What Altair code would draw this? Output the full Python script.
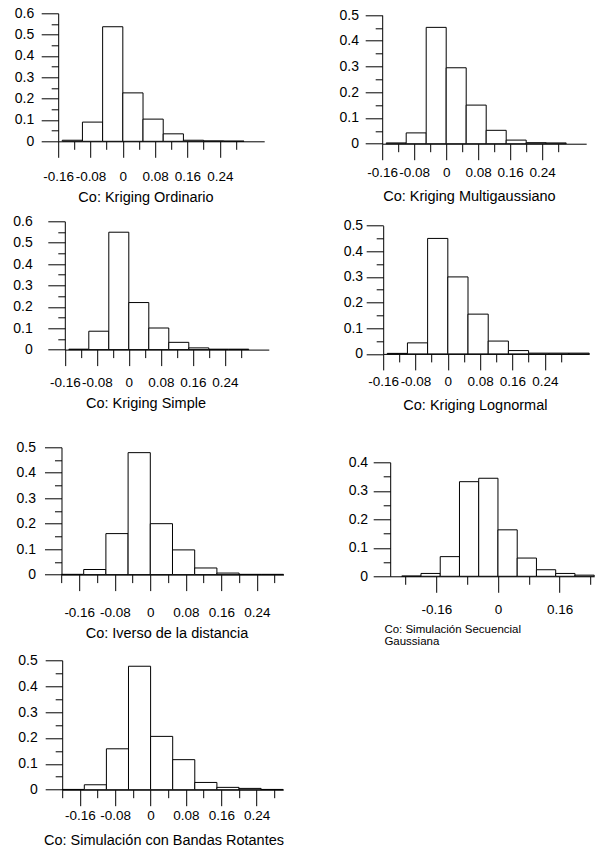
import json
import altair as alt
import pandas as pd

FONT = "Liberation Sans"

# ---------------- data ----------------
titles = [
    "Co: Kriging Ordinario",
    "Co: Kriging Multigaussiano",
    "Co: Kriging Simple",
    "Co: Kriging Lognormal",
    "Co: Iverso de la distancia",
    ["Co: Simulación Secuencial", "Gaussiana"],
    "Co: Simulación con Bandas Rotantes",
]

edges_a = [-0.15, -0.10, -0.05, 0.00, 0.05, 0.10, 0.15, 0.20, 0.25, 0.30]
edges_b = [-0.15, -0.10, -0.05, 0.00, 0.05, 0.10, 0.15, 0.20, 0.25, 0.30, 0.35]
edges_c = [-0.20, -0.15, -0.10, -0.05, 0.00, 0.05, 0.10, 0.15, 0.20, 0.25, 0.30]
edges_d = [-0.25, -0.20, -0.15, -0.10, -0.05, 0.00, 0.05, 0.10, 0.15, 0.20, 0.25]

freq_ordinario = [0.005, 0.090, 0.537, 0.227, 0.104, 0.035, 0.005, 0.002, 0.001]
freq_multigauss = [0.003, 0.042, 0.452, 0.295, 0.150, 0.052, 0.014, 0.004, 0.003]
freq_simple = [0.002, 0.086, 0.549, 0.220, 0.101, 0.034, 0.008, 0.002, 0.002]
freq_lognormal = [0.002, 0.043, 0.450, 0.300, 0.155, 0.050, 0.013, 0.003, 0.003, 0.003]
freq_inverso = [0.001, 0.020, 0.161, 0.479, 0.200, 0.097, 0.026, 0.006, 0.001, 0.001]
freq_ssg = [0.001, 0.010, 0.069, 0.332, 0.344, 0.163, 0.064, 0.023, 0.010, 0.004]
freq_bandas = [0.001, 0.019, 0.158, 0.477, 0.206, 0.116, 0.028, 0.009, 0.005, 0.001]

xticks_a = [-0.16, -0.12, -0.08, -0.04, 0.0, 0.04, 0.08, 0.12, 0.16, 0.20, 0.24, 0.28]
xticks_c = [-0.20, -0.16, -0.12, -0.08, -0.04, 0.0, 0.04, 0.08, 0.12, 0.16, 0.20, 0.24, 0.28]
xticks_d = [-0.24, -0.16, -0.08, 0.0, 0.08, 0.16, 0.24]
xlabels_a = [-0.16, -0.08, 0.0, 0.08, 0.16, 0.24]
xlabels_d = [-0.16, 0.0, 0.16]

yticks_6 = [0, 0.05, 0.1, 0.15, 0.2, 0.25, 0.3, 0.35, 0.4, 0.45, 0.5, 0.55, 0.6]
yticks_5 = [0, 0.05, 0.1, 0.15, 0.2, 0.25, 0.3, 0.35, 0.4, 0.45, 0.5]
yticks_4 = [0, 0.05, 0.1, 0.15, 0.2, 0.25, 0.3, 0.35, 0.4]
ylabels_6 = [0, 0.1, 0.2, 0.3, 0.4, 0.5, 0.6]
ylabels_5 = [0, 0.1, 0.2, 0.3, 0.4, 0.5]
ylabels_4 = [0, 0.1, 0.2, 0.3, 0.4]

panels = [
    dict(edges=edges_a, freq=freq_ordinario, xdom=[-0.16, 0.35], ymax=0.6,
         xt=xticks_a, xl=xlabels_a, yt=yticks_6, yl=ylabels_6),
    dict(edges=edges_a, freq=freq_multigauss, xdom=[-0.16, 0.35], ymax=0.5,
         xt=xticks_a, xl=xlabels_a, yt=yticks_5, yl=ylabels_5),
    dict(edges=edges_a, freq=freq_simple, xdom=[-0.16, 0.35], ymax=0.6,
         xt=xticks_a, xl=xlabels_a, yt=yticks_6, yl=ylabels_6),
    dict(edges=edges_b, freq=freq_lognormal, xdom=[-0.16, 0.35], ymax=0.5,
         xt=xticks_a, xl=xlabels_a, yt=yticks_5, yl=ylabels_5),
    dict(edges=edges_c, freq=freq_inverso, xdom=[-0.20, 0.30], ymax=0.5,
         xt=xticks_c, xl=xlabels_a, yt=yticks_5, yl=ylabels_5),
    dict(edges=edges_d, freq=freq_ssg, xdom=[-0.28, 0.25], ymax=0.4,
         xt=xticks_d, xl=xlabels_d, yt=yticks_4, yl=ylabels_4),
    dict(edges=edges_c, freq=freq_bandas, xdom=[-0.20, 0.30], ymax=0.5,
         xt=xticks_c, xl=xlabels_a, yt=yticks_5, yl=ylabels_5),
]

# ---------------- layout (pixels on the page) ----------------
geom = [
    dict(left=57.7, width=206, top=13.3, bottom=141.3, ypad=7.4, xlab=35.0, tx=145, ty=196, ta="center", tfs=14.5),
    dict(left=381.3, width=204, top=15.0, bottom=143.7, ypad=6.7, xlab=28.0, tx=468, ty=195, ta="center", tfs=14.5),
    dict(left=64.3, width=204, top=220.7, bottom=349.0, ypad=15.6, xlab=32.0, tx=145, ty=402, ta="center", tfs=14.5),
    dict(left=382.3, width=206, top=225.0, bottom=353.3, ypad=3.6, xlab=26.7, tx=474, ty=404, ta="center", tfs=14.5),
    dict(left=61.0, width=222, top=446.0, bottom=573.3, ypad=9.0, xlab=37.7, tx=166, ty=631, ta="center", tfs=14.5),
    dict(left=389.3, width=204, top=461.0, bottom=575.0, ypad=5.6, xlab=32.5, tx=383, ty=627.5, ta="left", tfs=11.5),
    dict(left=61.7, width=221, top=658.3, bottom=787.7, ypad=8.0, xlab=24.8, tx=163, ty=837.5, ta="center", tfs=14.5),
]

col_x = [57.7, 381.3]
col_w = [381.3 - 57.7, 212.0]
row_y = [13.3, 220.7, 446.0, 658.3]
row_h = [220.7 - 13.3, 446.0 - 220.7, 658.3 - 446.0, 787.7 - 658.3]

XTICK_LONG, XTICK_SHORT = 16, 8
YTICK_LONG, YTICK_SHORT = 17, 7


def member_test(vals):
    ints = json.dumps([int(round(v * 100)) for v in vals])
    return f"indexof({ints}, round(datum.value*100)) >= 0"


def make_panel(i):
    p, g = panels[i], geom[i]
    c, r = i % 2, i // 2
    cx, cy, cw, ch = col_x[c], row_y[r], col_w[c], row_h[r]
    dx = g["left"] - cx
    ytop = g["top"] - cy
    ybot = g["bottom"] - cy

    df = pd.DataFrame({"x0": p["edges"][:-1], "x1": p["edges"][1:], "f": p["freq"]})

    xmaj = member_test(p["xl"])
    ymaj = member_test(p["yl"])

    x_axis = alt.Axis(
        values=p["xt"],
        tickSize={"condition": {"test": xmaj, "value": XTICK_LONG}, "value": XTICK_SHORT},
        labelExpr=f"{xmaj} ? ((datum.value < 0 ? '-' : '') + format(abs(datum.value), '.2~f')) : ''",
        labelFontSize=13.5,
        labelBaseline="middle",
        labelPadding=g["xlab"] + 0.65 - XTICK_LONG,
        labelFlush=False,
        labelOverlap=False,
        offset=ybot - ch,
        title=titles[i],
        titleFontSize=g["tfs"],
        titleX=g["tx"] - cx,
        titleY=g["ty"] + 1 - g["bottom"],
        titleAlign=g["ta"],
        titleBaseline="middle",
        titleLineHeight=12,
        titleAngle=0,
    )
    y_axis = alt.Axis(
        values=p["yt"],
        tickSize={"condition": {"test": ymaj, "value": YTICK_LONG}, "value": YTICK_SHORT},
        labelExpr=f"{ymaj} ? format(datum.value, '.1~f') : ''",
        labelFontSize=14,
        labelPadding=g["ypad"],
        labelOverlap=False,
        labelFlush=False,
        offset=-dx,
        title=None,
    )

    return (
        alt.Chart(df)
        .mark_rect(fill="white", stroke="black", strokeWidth=1, opacity=1)
        .encode(
            x=alt.X("x0:Q", axis=x_axis,
                    scale=alt.Scale(domain=p["xdom"], range=[dx, dx + g["width"]], nice=False, zero=False)),
            x2="x1:Q",
            y=alt.Y("f:Q", axis=y_axis,
                    scale=alt.Scale(domain=[0, p["ymax"]], range=[ybot, ytop], nice=False, zero=True)),
            y2=alt.datum(0),
        )
        .properties(width=cw, height=ch)
    )


charts = [make_panel(i) for i in range(len(panels))]

chart = (
    alt.concat(*charts, columns=2, spacing=0, bounds="flush", align="each")
    .properties(padding={"left": 12.2, "top": 6.3, "right": 4, "bottom": 4}, background="white")
    .configure_view(stroke=None)
    .configure_axis(
        grid=False,
        domainColor="black",
        tickColor="black",
        labelColor="black",
        titleColor="black",
        labelFont=FONT,
        titleFont=FONT,
        titleFontWeight="normal",
        domainWidth=1,
        tickWidth=1,
    )
)

chart.save("out.html", embed_options={"renderer": "svg", "actions": False})
